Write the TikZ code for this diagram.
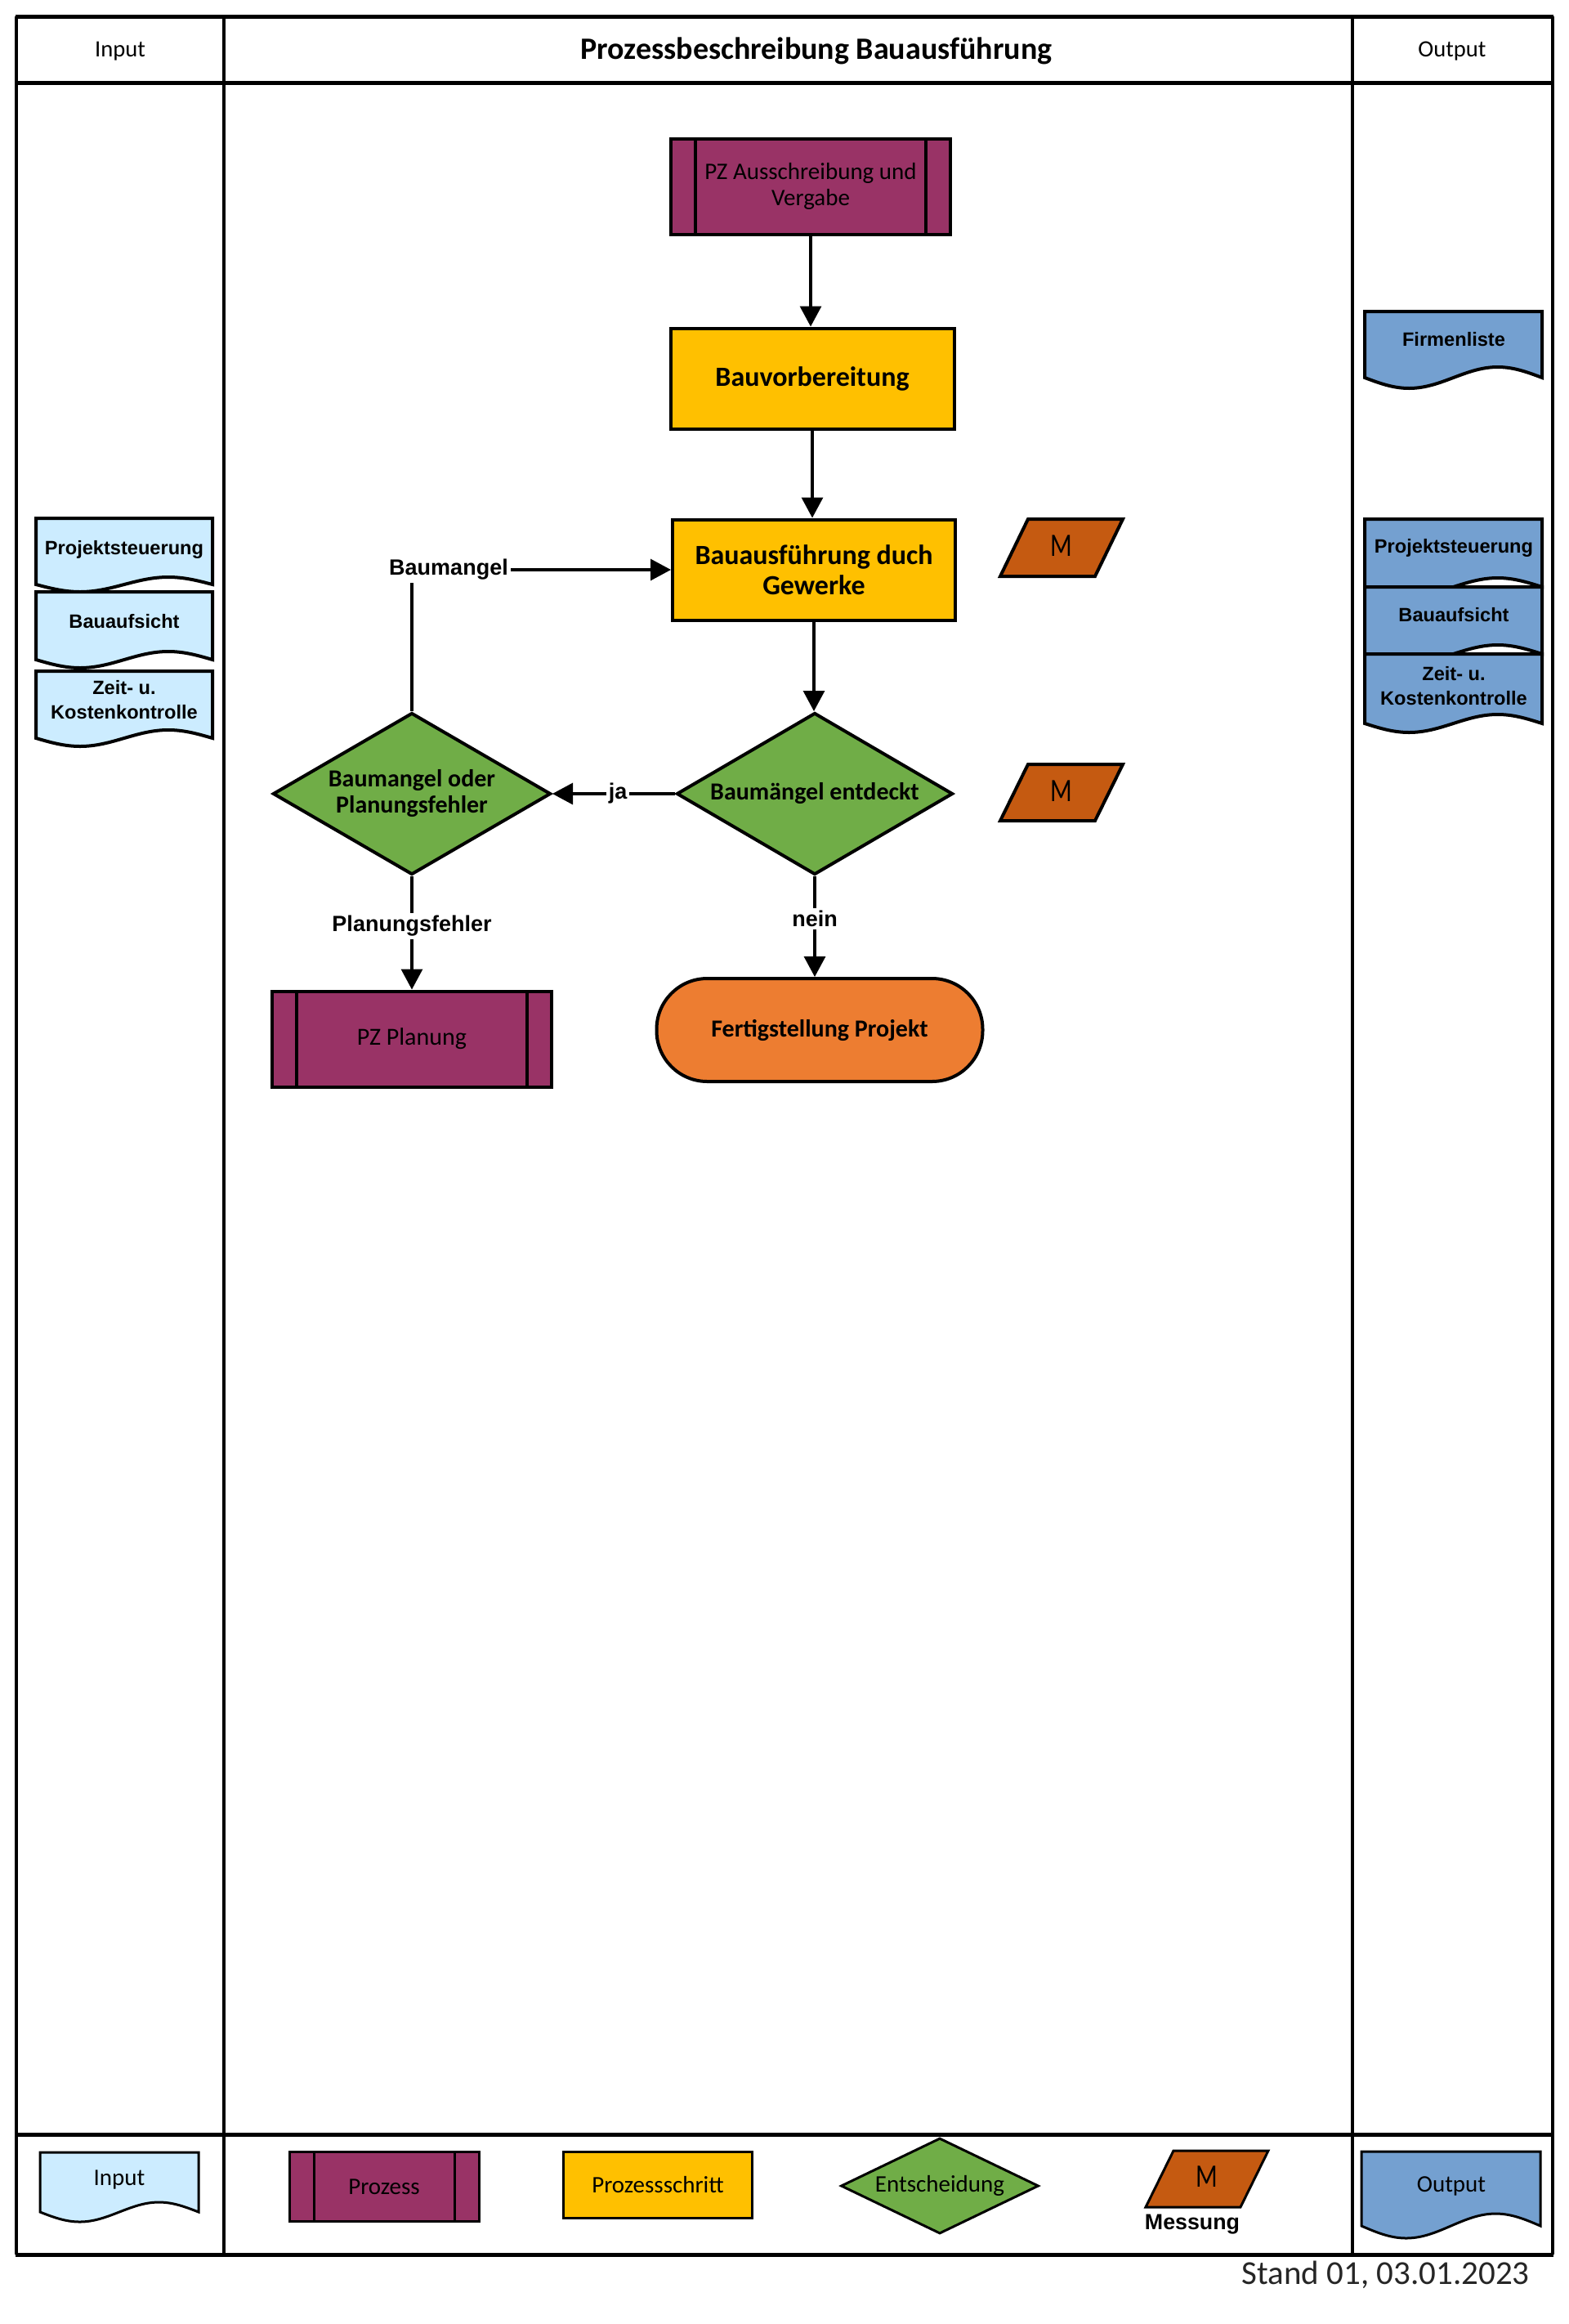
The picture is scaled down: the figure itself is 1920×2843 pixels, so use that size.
\documentclass[tikz,border=0pt]{standalone}
\usepackage{fontspec}
\usepackage{graphicx}
\setmainfont{Carlito}
\newfontfamily\arialf{Liberation Sans}
\usetikzlibrary{shapes.geometric,arrows.meta,calc}

\definecolor{purp}{HTML}{993366}
\definecolor{gelb}{HTML}{FFC000}
\definecolor{gruen}{HTML}{70AD47}
\definecolor{orng}{HTML}{ED7D31}
\definecolor{messc}{HTML}{C55A11}
\definecolor{inblue}{HTML}{CCECFF}
\definecolor{outblue}{HTML}{74A0D0}

% document shape: style, x1, ytop, x2, ycorner, half amplitude
\newcommand\docshape[6]{\path[#1] (#2,#3) -- (#4,#3) -- (#4,#5) sin ({#4-(#4-#2)/4},{#5-#6}) cos ({(#2+#4)/2},#5) sin ({#2+(#4-#2)/4},{#5+#6}) cos (#2,#5) -- cycle;}
% measurement parallelogram: style, x bottom-left, ytop, ybottom
\newcommand\messpath[4]{\path[#1] (#2,#4) -- ({#2+116},#4) -- ({#2+150},#3) -- ({#2+34},#3) -- cycle;}
\newcommand\messM{\scalebox{0.78}[1]{M}}

\tikzset{
  box/.style={draw, line width=#1, rectangle, inner sep=0pt},
  box/.default=2pt,
  prozess/.style={box=#1, fill=purp,
    path picture={\draw[line width=#1]
      ([xshift=15pt]path picture bounding box.north west) -- ([xshift=15pt]path picture bounding box.south west)
      ([xshift=-15pt]path picture bounding box.north east) -- ([xshift=-15pt]path picture bounding box.south east);}},
  prozess/.default=2pt,
  schritt/.style={box=#1, fill=gelb},
  schritt/.default=2pt,
  entsch/.style={draw, line width=#1, diamond, fill=gruen, inner sep=0pt},
  entsch/.default=2pt,
  ende/.style={draw, line width=2pt, rectangle, rounded corners=31pt, fill=orng, inner sep=0pt},
  conn/.style={line width=1.6pt, -{Triangle[length=12.5pt,width=13pt]}},
  lab/.style={font=\arialf\bfseries\fontsize{13.5}{15}\selectfont, fill=white, inner sep=1.5pt},
  doctext/.style={font=\arialf\bfseries\fontsize{11.8}{15}\selectfont, align=center, inner sep=0pt},
  indoc/.style={draw, line width=2pt, fill=inblue},
  outdoc/.style={draw, line width=2pt, fill=outblue},
  mess/.style={draw, line width=2pt, fill=messc, line join=miter},
  mtext/.style={font=\fontsize{20}{22}\selectfont, inner sep=0pt},
  legtext/.style={font=\fontsize{14.5}{16}\selectfont, inner sep=0pt},
  hline/.style={line width=2.5pt},
  vline/.style={line width=1.6pt},
}

\begin{document}
\begin{tikzpicture}[x=0.5pt,y=-0.5pt]
\useasboundingbox (0,0) rectangle (1920,2843);

% ---------- frame ----------
\draw[vline] (20,20) -- (20,2758);
\draw[vline] (1900,20) -- (1900,2758);
\draw[vline] (274,20) -- (274,2758);
\draw[vline] (1655,20) -- (1655,2758);
\draw[hline] (19,20) -- (1901,20);
\draw[hline] (19,101) -- (1901,101);
\draw[hline] (19,2611) -- (1901,2611);
\draw[hline] (19,2758) -- (1901,2758);

% ---------- header ----------
\node[font=\fontsize{14.3}{16}\selectfont] (hin) at (147,63) {Input};
\node[font=\bfseries\fontsize{19}{22}\selectfont] (htitle) at (999,62) {Prozessbeschreibung Bauausführung};
\node[font=\fontsize{14.3}{16}\selectfont] (hout) at (1777,63) {Output};

% ---------- main flow ----------
\node[prozess, minimum width=171pt, minimum height=58.5pt, font=\fontsize{14.5}{16}\selectfont, align=center] (pa) at (992,228) {PZ Ausschreibung und\\Vergabe};
\node[schritt, minimum width=173.5pt, minimum height=61.5pt, font=\bfseries\fontsize{17}{18.5}\selectfont] (bv) at (994,463) {Bauvorbereitung};
\node[schritt, minimum width=173pt, minimum height=61.5pt, font=\bfseries\fontsize{17}{18.5}\selectfont, align=center] (ba) at (996,697) {Bauausführung duch\\Gewerke};
\node[entsch, aspect=1.71, minimum width=169pt, minimum height=99pt, font=\bfseries\fontsize{15}{16}\selectfont] (be) at (997,971) {Baumängel entdeckt};
\node[entsch, aspect=1.71, minimum width=170pt, minimum height=99pt, font=\bfseries\fontsize{15}{16}\selectfont, align=center] (bp) at (504,971) {Baumangel oder\\Planungsfehler};
\node[prozess, minimum width=171pt, minimum height=58.5pt, font=\fontsize{15}{16}\selectfont] (pp) at (504,1271) {PZ Planung};
\node[ende, minimum width=199.5pt, minimum height=63pt, font=\bfseries\fontsize{15}{16}\selectfont] (fe) at (1003,1260) {Fertigstellung Projekt};

% measurements
\messpath{mess}{1224}{635}{705}
\node[mtext] (m1) at (1299,668) {\messM};
\messpath{mess}{1224}{935}{1004}
\node[mtext] (m2) at (1299,968) {\messM};

% connectors
\draw[conn] (pa.south) -- (pa.south |- bv.north);
\draw[conn] (bv.south) -- (bv.south |- ba.north);
\draw[conn] (ba.south) -- (ba.south |- be.north);
\draw[conn] (be.west) -- (bp.east);
\node[lab] (lja) at (756,971) {ja};
\draw[conn] (bp.north) |- (ba.west);
\node[lab] (lbm) at (549,697) {Baumangel};
\draw[conn] (bp.south) -- (pp.north);
\node[lab] (lpf) at (504,1133) {Planungsfehler};
\draw[conn] (be.south) -- (be.south |- fe.north);
\node[lab] (lnein) at (997,1124) {nein};

% ---------- input column ----------
\docshape{indoc}{44}{634}{260}{715}{9}
\node[doctext] (in1) at (152,672) {Projektsteuerung};
\docshape{indoc}{44}{724}{260}{807}{10}
\node[doctext] (in2) at (152,760) {Bauaufsicht};
\docshape{indoc}{44}{821}{260}{903}{10}
\node[doctext] (in3) at (152,856) {Zeit- u.\\Kostenkontrolle};

% ---------- output column ----------
\docshape{outdoc}{1670}{381}{1887}{462}{13}
\node[doctext] (out1) at (1779,415) {Firmenliste};
\docshape{outdoc}{1670}{635}{1887}{718}{11}
\node[doctext] (out2) at (1779,670) {Projektsteuerung};
\docshape{outdoc}{1670}{718}{1887}{800}{11}
\node[doctext] (out3) at (1779,752) {Bauaufsicht};
\docshape{outdoc}{1670}{800}{1887}{885}{11}
\node[doctext] (out4) at (1779,839) {Zeit- u.\\Kostenkontrolle};

% ---------- legend ----------
\docshape{draw, line width=1.5pt, fill=inblue}{49}{2633}{243}{2706}{12}
\node[legtext] (lgin) at (146,2666) {Input};
\node[prozess=1.5pt, minimum width=116pt, minimum height=42.5pt, legtext] (lgp) at (470,2675) {Prozess};
\node[schritt=1.5pt, minimum width=115.5pt, minimum height=40.5pt, legtext] (lgs) at (805,2673) {Prozessschritt};
\node[entsch=1.5pt, aspect=2.07, minimum width=121pt, minimum height=58.5pt, legtext] (lge) at (1150,2674) {Entscheidung};
\messpath{draw, line width=1.5pt, fill=messc}{1402}{2631}{2700}
\node[mtext] (lgm) at (1477,2663) {\messM};
\node[font=\arialf\bfseries\fontsize{13.4}{15}\selectfont, inner sep=0pt] (lgmess) at (1459,2721) {Messung};
\docshape{draw, line width=1.5pt, fill=outblue}{1666}{2632}{1885}{2723}{15}
\node[legtext] (lgout) at (1776,2674) {Output};

% ---------- footer ----------
\node[anchor=east, font=\fontsize{20.5}{24}\selectfont, text=black!85, inner sep=0pt] (stand) at (1872,2783) {Stand 01, 03.01.2023};
\end{tikzpicture}
\end{document}
